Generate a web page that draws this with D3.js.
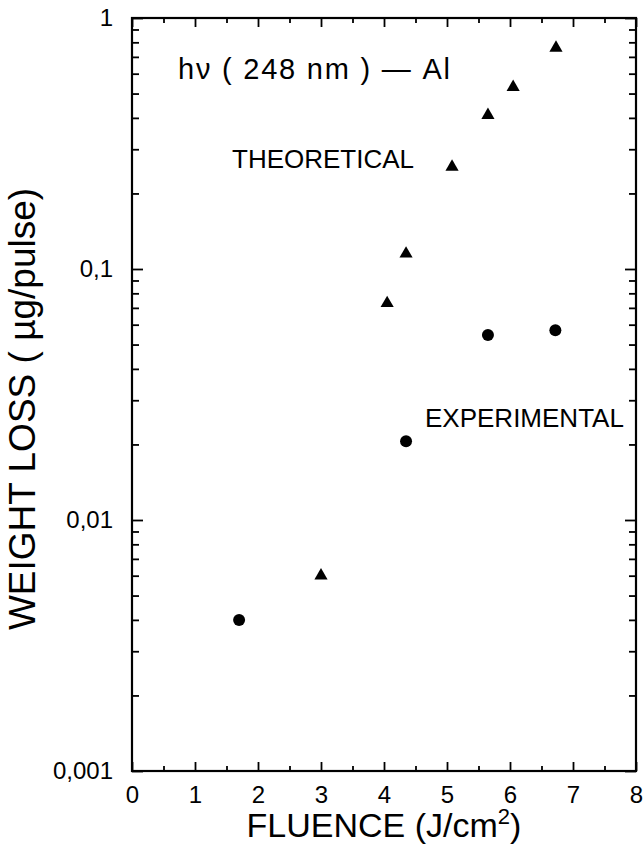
<!DOCTYPE html>
<html><head><meta charset="utf-8">
<script src="https://cdn.jsdelivr.net/npm/d3@7"></script>
<style>
html,body{margin:0;padding:0;background:#fff;}
svg{display:block;}
text{font-family:"Liberation Sans", Arial, sans-serif; fill:#000;}
</style>
</head><body>
<svg id="c" width="644" height="861"></svg>
<script>
// Data
const theoFluence = [3.0, 4.05, 4.35, 5.08, 5.65, 6.05, 6.73];
const theoLoss    = [0.006, 0.073, 0.115, 0.255, 0.41, 0.53, 0.76];
const expFluence  = [1.7, 4.35, 5.65, 6.72];
const expLoss     = [0.004, 0.0206, 0.0546, 0.057];
const xTicks = [0,1,2,3,4,5,6,7,8];
const xMinorTicks = [0.5,1.5,2.5,3.5,4.5,5.5,6.5,7.5];
const yTicks = [0.001, 0.01, 0.1, 1];
const yTickLabels = ["0,001", "0,01", "0,1", "1"];
const yMinorTicks = [];
[0.001,0.01,0.1].forEach(d => { for (let k=2;k<=9;k++) yMinorTicks.push(d*k); });

const svg = d3.select("#c");
const L = 132, R = 636, T = 18, B = 771;
const x = d3.scaleLinear().domain([0,8]).range([L,R]);
const y = d3.scaleLog().domain([0.001,1]).range([B,T]);

function styleAxis(g){
  g.select(".domain").remove();
  g.selectAll(".tick line").attr("stroke","#000").attr("stroke-width",1.8);
}

// bottom
svg.append("g").attr("transform",`translate(0,${B})`)
  .call(d3.axisBottom(x).tickValues(xTicks).tickSize(-9).tickPadding(15).tickFormat(d3.format("d")))
  .call(styleAxis)
  .call(g=>g.selectAll("text").attr("font-size",24).attr("font-family","Liberation Sans, Arial"));
svg.append("g").attr("transform",`translate(0,${B})`)
  .call(d3.axisBottom(x).tickValues(xMinorTicks).tickSize(-5).tickFormat(""))
  .call(styleAxis);
// top
svg.append("g").attr("transform",`translate(0,${T})`)
  .call(d3.axisTop(x).tickValues(xTicks).tickSize(-9).tickFormat(""))
  .call(styleAxis);
svg.append("g").attr("transform",`translate(0,${T})`)
  .call(d3.axisTop(x).tickValues(xMinorTicks).tickSize(-5).tickFormat(""))
  .call(styleAxis);
// left
svg.append("g").attr("transform",`translate(${L},0)`)
  .call(d3.axisLeft(y).tickValues(yTicks).tickSize(-11).tickPadding(19).tickFormat((d,i)=>yTickLabels[i]))
  .call(styleAxis)
  .call(g=>g.selectAll("text").attr("font-size",24).attr("font-family","Liberation Sans, Arial"));
svg.append("g").attr("transform",`translate(${L},0)`)
  .call(d3.axisLeft(y).tickValues(yMinorTicks).tickSize(-7).tickFormat(""))
  .call(styleAxis);
// right
svg.append("g").attr("transform",`translate(${R},0)`)
  .call(d3.axisRight(y).tickValues(yTicks).tickSize(-11).tickFormat(""))
  .call(styleAxis);
svg.append("g").attr("transform",`translate(${R},0)`)
  .call(d3.axisRight(y).tickValues(yMinorTicks).tickSize(-7).tickFormat(""))
  .call(styleAxis);

// frame
svg.append("rect").attr("x",L).attr("y",T).attr("width",R-L).attr("height",B-T)
  .attr("fill","none").attr("stroke","#000").attr("stroke-width",2.2);

// markers
const tri = d3.symbol().type(d3.symbolTriangle).size(75);
svg.append("g").selectAll("path").data(theoFluence.map((f,i)=>[f,theoLoss[i]]))
  .join("path").attr("d",tri)
  .attr("transform",d=>`translate(${x(d[0])},${y(d[1])})`).attr("fill","#000");
svg.append("g").selectAll("circle").data(expFluence.map((f,i)=>[f,expLoss[i]]))
  .join("circle").attr("cx",d=>x(d[0])).attr("cy",d=>y(d[1])).attr("r",6).attr("fill","#000");

// annotations
svg.append("text").attr("x",178).attr("y",79).attr("font-size",29)
  .attr("textLength",272).attr("lengthAdjust","spacing")
  .text("hν ( 248  nm ) — Al");
svg.append("text").attr("x",232).attr("y",168).attr("font-size",26).text("THEORETICAL");
svg.append("text").attr("x",425).attr("y",427).attr("font-size",26).text("EXPERIMENTAL");

// axis titles
const xt = svg.append("text").attr("x",(L+R)/2).attr("y",837).attr("font-size",34).attr("text-anchor","middle");
xt.append("tspan").text("FLUENCE (J/cm");
xt.append("tspan").attr("font-size",22).attr("dy",-13).text("2");
xt.append("tspan").attr("dy",13).text(")");

svg.append("text").attr("transform","translate(35,409) rotate(-90)")
  .attr("font-size",37).attr("text-anchor","middle")
  .text("WEIGHT LOSS ( µg/pulse)");
</script>
</body></html>
